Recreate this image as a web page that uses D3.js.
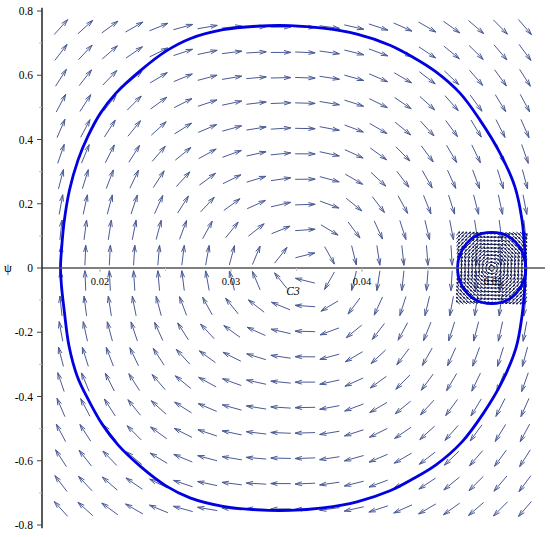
<!DOCTYPE html>
<html><head><meta charset="utf-8">
<script src="https://cdn.jsdelivr.net/npm/d3@7"></script>
<style>body{margin:0;background:#fff}svg{display:block}</style>
</head><body><svg id="c" width="550" height="537"></svg>
<script>
// ---------- data ----------
// direction-field grid (big field)
const gridC3 = [0.01702,0.01888,0.02075,0.02261,0.02448,0.02634,0.02820,0.03007,0.03193,0.03380,
                0.03566,0.03752,0.03939,0.04125,0.04312,0.04498,0.04684,0.04871,0.05057,0.05244];
const gridPsi = [0.7500,0.6711,0.5921,0.5132,0.4342,0.3553,0.2763,0.1974,0.1184,0.0395,
                 -0.0395,-0.1184,-0.1974,-0.2763,-0.3553,-0.4342,-0.5132,-0.5921,-0.6711,-0.7500];
// restoring strength dPsi/dt per column (read from arrow slopes)
const fieldStrength = [1.12,0.925,0.76,0.61,0.45,0.32,0.22,0.15,0.095,0.05,
                       0.01,-0.07,-0.16,-0.26,-0.37,-0.50,-0.63,-0.77,-0.92,-1.06];
const psiCoupling = 0.1;   // dPsi/dt reduction with psi^2
const psiCubic = 0.5;      // dC3/dt = (psi + psiCubic*psi^3) * c3Rate
const c3Rate = 0.02454;

// small direction field around C3 = 0.05
const smallGridC3 = [0.04733,0.04760,0.04787,0.04814,0.04841,0.04868,0.04895,0.04922,0.04949,0.04976,
                     0.05003,0.05031,0.05058,0.05085,0.05112,0.05139,0.05166,0.05193,0.05220,0.05247];
const smallGridPsi = [0.1073,0.0960,0.0847,0.0734,0.0621,0.0508,0.0395,0.0282,0.0169,0.0056,
                      -0.0056,-0.0169,-0.0282,-0.0395,-0.0508,-0.0621,-0.0734,-0.0847,-0.0960,-0.1073];
const smallCenter = [0.0499, 0];
const smallStiffness = 40.75;

// big closed orbit
const orbitC3 = [0.016985,0.017061,0.017252,0.017672,0.018321,0.019046,0.020038,0.021221,0.023130,0.025038,
  0.026870,0.029389,0.031985,0.034504,0.037023,0.039618,0.042137,0.043893,0.045573,0.047481,
  0.049008,0.050534,0.051679,0.052214,0.052443,0.052481,
  0.052443,0.052214,0.051756,0.050687,0.049237,0.047634,0.045649,0.043893,0.042137,0.039618,
  0.037023,0.034504,0.031985,0.029389,0.026870,0.025038,0.023130,0.021374,0.020153,0.019122,
  0.018282,0.017634,0.017290,0.017061];
const orbitPsi = [0,0.0560,0.1400,0.2426,0.3359,0.4075,0.4821,0.5443,0.6159,0.6750,
  0.7138,0.7418,0.7527,0.7543,0.7465,0.7278,0.6936,0.6563,0.6128,0.5443,
  0.4603,0.3577,0.2519,0.1493,0.0467,0,
  -0.0467,-0.1493,-0.2488,-0.3546,-0.4541,-0.5412,-0.6128,-0.6563,-0.6936,-0.7278,
  -0.7465,-0.7543,-0.7527,-0.7418,-0.7154,-0.6781,-0.6190,-0.5506,-0.4852,-0.4106,
  -0.3390,-0.2426,-0.1400,-0.0560];

// small closed orbit
const smallOrbitC3 = [0.052511,0.052160,0.051206,0.049901,0.048595,0.047641,0.047290,0.047641,0.048595,0.049901,0.051206,0.052160];
const smallOrbitPsi = [0,0.0557,0.0977,0.1110,0.0977,0.0557,0,-0.0557,-0.0977,-0.1110,-0.0977,-0.0557];
const tinyOrbit = {c3: 0.0499, psi: 0, r: 0.00019};

// ticks
const yTicks = [0.8,0.6,0.4,0.2,0,-0.2,-0.4,-0.6,-0.8];
const yTickLabels = ["0.8","0.6","0.4","0.2","0","-0.2","-0.4","-0.6","-0.8"];
const yMinorTicks = [0.7,0.5,0.3,0.1,-0.1,-0.3,-0.5,-0.7];
const xTicks = [0.02,0.03,0.04,0.05];
const xTickLabels = ["0.02","0.03","0.04","0.05"];
const xMinorTicks = [0.025,0.035,0.045];

// ---------- drawing ----------
const FONT = "'Liberation Serif', 'Times New Roman', Times, 'DejaVu Serif', serif";
const svg = d3.select("#c");
const x = d3.scaleLinear().domain([0.02, 0.05]).range([100, 493]);
const y = d3.scaleLinear().domain([-0.8, 0.8]).range([525, 11]);

function arrowPath(cx, cy, dx, dy, len, head, ang) {
  const m = Math.hypot(dx, dy);
  if (m === 0) return "";
  const ux = dx / m, uy = dy / m;
  const x0 = cx - ux * len / 2, y0 = cy - uy * len / 2;
  const x1 = cx + ux * len / 2, y1 = cy + uy * len / 2;
  const c = Math.cos(ang), s = Math.sin(ang);
  const h1x = x1 - head * (ux * c - uy * s), h1y = y1 - head * (uy * c + ux * s);
  const h2x = x1 - head * (ux * c + uy * s), h2y = y1 - head * (uy * c - ux * s);
  return `M${x0},${y0}L${x1},${y1}M${h1x},${h1y}L${x1},${y1}L${h2x},${h2y}`;
}

// big field
const big = [];
gridC3.forEach((c, i) => gridPsi.forEach(p => {
  const dC = (p + psiCubic * p * p * p) * c3Rate;
  const dP = fieldStrength[i] - psiCoupling * p * p;
  const eps = 1e-3;
  big.push({cx: x(c), cy: y(p), dx: x(c + eps * dC) - x(c), dy: y(p + eps * dP) - y(p)});
}));
svg.append("g").selectAll("path").data(big).join("path")
  .attr("d", d => arrowPath(d.cx, d.cy, d.dx, d.dy, 20, 7, 0.28))
  .attr("fill", "none").attr("stroke", "#4a5a94").attr("stroke-width", 1);

// small field
const small = [];
smallGridC3.forEach(c => smallGridPsi.forEach(p => {
  const dC = p * c3Rate;
  const dP = -(c - smallCenter[0]) * smallStiffness;
  const eps = 1e-3;
  small.push({cx: x(c), cy: y(p), dx: x(c + eps * dC) - x(c), dy: y(p + eps * dP) - y(p)});
}));
svg.append("g").selectAll("path").data(small).join("path")
  .attr("d", d => arrowPath(d.cx, d.cy, d.dx, d.dy, 4.8, 1.7, 0.45))
  .attr("fill", "none").attr("stroke", "#141a50").attr("stroke-width", 1);

// orbits
const line = d3.line().x(d => x(d[0])).y(d => y(d[1])).curve(d3.curveCatmullRomClosed.alpha(0.5));
svg.append("path").attr("d", line(orbitC3.map((c, i) => [c, orbitPsi[i]])))
  .attr("fill", "none").attr("stroke", "#0000e0").attr("stroke-width", 2.8);
svg.append("path").attr("d", line(smallOrbitC3.map((c, i) => [c, smallOrbitPsi[i]])))
  .attr("fill", "none").attr("stroke", "#0000e0").attr("stroke-width", 2.8);
svg.append("circle").attr("cx", x(tinyOrbit.c3)).attr("cy", y(tinyOrbit.psi))
  .attr("r", x(tinyOrbit.c3 + tinyOrbit.r) - x(tinyOrbit.c3))
  .attr("fill", "none").attr("stroke", "#303040").attr("stroke-width", 0.8);

// axes
const ax = svg.append("g");
ax.append("line").attr("x1", 42).attr("x2", 545).attr("y1", y(0)).attr("y2", y(0))
  .attr("stroke", "#555").attr("stroke-width", 1.3);
ax.append("line").attr("x1", 42).attr("x2", 42).attr("y1", y(0.81)).attr("y2", y(-0.81))
  .attr("stroke", "#222").attr("stroke-width", 1.5);
ax.selectAll(".ymaj").data(yTicks).join("line")
  .attr("x1", 37).attr("x2", 42).attr("y1", d => y(d)).attr("y2", d => y(d))
  .attr("stroke", "#444").attr("stroke-width", 1);
ax.selectAll(".ymin").data(yMinorTicks).join("line")
  .attr("x1", 39).attr("x2", 42).attr("y1", d => y(d)).attr("y2", d => y(d))
  .attr("stroke", "#bbb").attr("stroke-width", 1);
ax.selectAll(".xmaj").data(xTicks).join("line")
  .attr("x1", d => x(d)).attr("x2", d => x(d)).attr("y1", y(0)).attr("y2", y(0) + 4)
  .attr("stroke", "#aaa").attr("stroke-width", 1);
ax.selectAll(".xmin").data(xMinorTicks).join("line")
  .attr("x1", d => x(d)).attr("x2", d => x(d)).attr("y1", y(0)).attr("y2", y(0) + 3)
  .attr("stroke", "#ccc").attr("stroke-width", 1);

ax.selectAll(".yl").data(yTicks).join("text")
  .attr("x", 33).attr("y", d => y(d)).attr("dy", "0.35em")
  .attr("text-anchor", "end").style("font-family", FONT)
  .attr("font-size", 11.5).attr("fill", "#000")
  .text((d, i) => yTickLabels[i]);
ax.selectAll(".xl").data(xTicks).join("text")
  .attr("x", d => x(d)).attr("y", y(0) + 17)
  .attr("text-anchor", "middle").style("font-family", FONT)
  .attr("font-size", 10.5).attr("fill", "#000")
  .text((d, i) => xTickLabels[i]);
ax.append("text").attr("x", 293).attr("y", y(0) + 27).attr("text-anchor", "middle")
  .style("font-family", FONT).attr("font-style", "italic")
  .attr("font-size", 11.5).attr("fill", "#000").text("C3");
ax.append("text").attr("x", 8).attr("y", y(0)).attr("dy", "0.35em").attr("text-anchor", "middle")
  .style("font-family", FONT)
  .attr("font-size", 12.5).attr("fill", "#000").text("ψ");
</script></body></html>
